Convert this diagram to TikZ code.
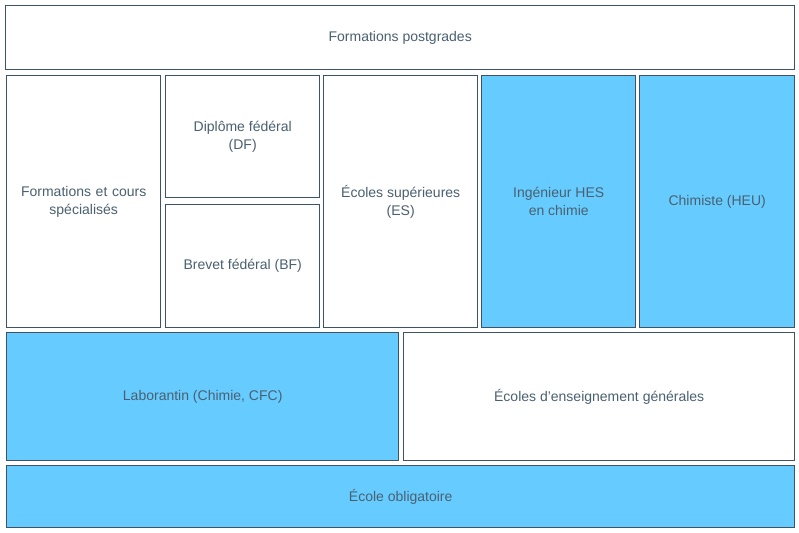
\documentclass[tikz,border=0pt]{standalone}
\usepackage{fontspec}
\setmainfont{Liberation Sans}
\definecolor{cellblue}{RGB}{102,204,255}
\definecolor{edge}{RGB}{62,84,100}
\definecolor{label}{RGB}{74,96,112}
\tikzset{
  cell/.style={draw=edge, line width=1.4pt, fill=white, anchor=north west, inner sep=2pt,
    text=label, align=center, font=\fontsize{14}{18}\selectfont},
  blue cell/.style={cell, fill=cellblue}
}
\begin{document}
\begin{tikzpicture}[x=1pt, y=-1pt]
\useasboundingbox (0,0) rectangle (799,532);
% Top row
\node[cell, minimum width=789pt, minimum height=64pt] (postgrad) at (5,5) {Formations postgrades};

% Middle row
\node[cell, minimum width=154pt, minimum height=252pt, text width=150pt] (cours) at (6,75) {Formations et cours\\spécialisés};
\node[cell, minimum width=154pt, minimum height=122pt] (df) at (165,75) {Diplôme fédéral\\(DF)};
\node[cell, minimum width=154pt, minimum height=123pt] (bf) at (165,204) {Brevet fédéral (BF)};
\node[cell, minimum width=154pt, minimum height=252pt] (es) at (323,75) {Écoles supérieures\\(ES)};
\node[blue cell, minimum width=154pt, minimum height=252pt] (hes) at (481,75) {Ingénieur HES\\en chimie};
\node[blue cell, minimum width=155pt, minimum height=252pt] (heu) at (639,75) {Chimiste (HEU)};

% Lower rows
\node[blue cell, minimum width=392pt, minimum height=128pt] (cfc) at (6,332) {Laborantin (Chimie, CFC)};
\node[cell, minimum width=391pt, minimum height=128pt] (gen) at (403,332) {Écoles d’enseignement générales};
\node[blue cell, minimum width=788pt, minimum height=62pt] (oblig) at (6,465) {École obligatoire};
\end{tikzpicture}
\end{document}
